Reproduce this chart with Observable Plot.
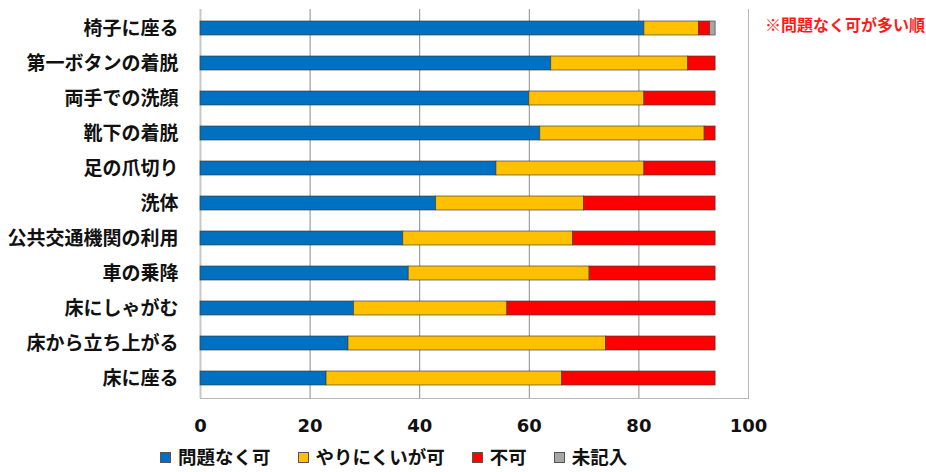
<!DOCTYPE html>
<html>
<head>
<meta charset="utf-8">
<script src="https://cdn.jsdelivr.net/npm/d3@7"></script>
<script src="https://cdn.jsdelivr.net/npm/@observablehq/plot@0.6"></script>
<style>
  html, body { margin: 0; padding: 0; background: #fff; }
  #wrap { position: relative; width: 926px; height: 472px; font-family: "DejaVu Sans", "Noto Sans CJK JP", sans-serif; }
  #note { position: absolute; left: 765px; top: 12px; font-size: 16px; font-weight: bold; color: #ff1a1a; font-family: "Noto Sans CJK JP", sans-serif; white-space: nowrap; }
  #legend { display: flex; align-items: center; padding-left: 160px; height: 32px; font-family: "Noto Sans CJK JP", sans-serif; font-weight: bold; font-size: 18.5px; color: #111; }
  .item { display: flex; align-items: center; margin-right: 27px; }
  .sw { width: 9px; height: 9px; border: 1px solid #555; margin-right: 7px; margin-top: 3px; }
  svg { display: block; }
</style>
</head>
<body>
<div id="wrap">
  <div id="chart"></div>
  <div id="legend"></div>
  <div id="note">※問題なく可が多い順</div>
</div>
<script>
const items = ["椅子に座る","第一ボタンの着脱","両手での洗顔","靴下の着脱","足の爪切り","洗体","公共交通機関の利用","車の乗降","床にしゃがむ","床から立ち上がる","床に座る"];
const seriesNames = ["問題なく可","やりにくいが可","不可","未記入"];
const seriesColors = ["#0070C0","#FFC000","#FF0000","#A6A6A6"];
const okVals    = [81,64,60,62,54,43,37,38,28,27,23];
const hardVals  = [10,25,21,30,27,27,31,33,28,47,43];
const noVals    = [2,5,13,2,13,24,26,23,38,20,28];
const blankVals = [1,0,0,0,0,0,0,0,0,0,0];
const xTicks = [0,20,40,60,80,100];

const seriesVals = [okVals, hardVals, noVals, blankVals];
const data = [];
items.forEach((item, i) => {
  seriesNames.forEach((s, j) => {
    const v = seriesVals[j][i];
    if (v > 0) data.push({item, status: s, value: v});
  });
});

const chart = Plot.plot({
  width: 926,
  height: 440,
  marginLeft: 200,
  marginRight: 178,
  marginTop: 9,
  marginBottom: 42,
  style: {fontFamily: '"DejaVu Sans", "Noto Sans CJK JP", sans-serif', color: "#111", background: "#fff"},
  x: {domain: [0, 100], ticks: xTicks},
  y: {domain: items, paddingInner: 0.586, paddingOuter: 0.293},
  color: {domain: seriesNames, range: seriesColors},
  marks: [
    Plot.gridX(xTicks.filter(d => d > 0 && d < 100), {stroke: "#8c8c8c", strokeOpacity: 1}),
    Plot.ruleX([0], {stroke: "#c8c8c8", strokeWidth: 2}),
    Plot.ruleX([100], {stroke: "#b8b8b8", strokeWidth: 1}),
    Plot.frame({anchor: "bottom", stroke: "#b8b8b8"}),
    Plot.barX(data, Plot.stackX({y: "item", x: "value", fill: "status", order: seriesNames, stroke: "#3a3a3a", strokeWidth: 0.8, strokeOpacity: 0.8})),
    Plot.axisX({ticks: xTicks, tickSize: 0, tickPadding: 21, fontSize: 18, fontWeight: "bold", label: null}),
    Plot.axisY({tickSize: 0, tickPadding: 22, fontSize: 19, fontWeight: "bold", label: null, fontFamily: '"Noto Sans CJK JP", sans-serif'})
  ]
});
document.getElementById("chart").appendChild(chart);

const legend = document.getElementById("legend");
seriesNames.forEach((s, j) => {
  const it = document.createElement("div");
  it.className = "item";
  const sw = document.createElement("div");
  sw.className = "sw";
  sw.style.background = seriesColors[j];
  const t = document.createElement("span");
  t.textContent = s;
  it.appendChild(sw);
  it.appendChild(t);
  legend.appendChild(it);
});
</script>
</body>
</html>
